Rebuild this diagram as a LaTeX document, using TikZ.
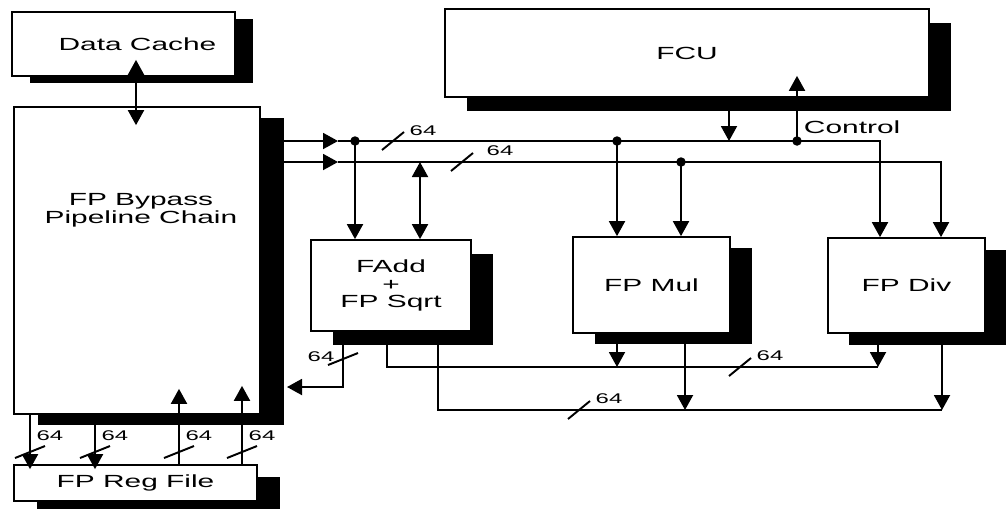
\documentclass[tikz,border=0pt]{standalone}
\usepackage{fontspec}
\setmainfont{Liberation Sans}[FakeStretch=1.7]
\usetikzlibrary{arrows.meta,calc,shadows}
\tikzset{
  blockbox/.style={draw, fill=white, line width=1pt, inner sep=0pt, align=center,
    font=\fontsize{10}{10.2}\selectfont},
  blkshadow/.style 2 args={drop shadow={shadow xshift=#1, shadow yshift=#2,
    fill=black, opacity=1}},
  blocklbl/.style={align=center, inner sep=0pt, font=\fontsize{10}{10.2}\selectfont},
  numlbl/.style={inner sep=0pt, font=\fontsize{8}{8}\selectfont},
  flow/.style={-{Triangle[length=3mm,width=3.2mm]}},
  dflow/.style={{Triangle[length=3mm,width=3.2mm]}-{Triangle[length=3mm,width=3.2mm]}},
  bwh/.pic={\draw (-11,9) -- (11,-9);},
  bwv/.pic={\draw (-15,6) -- (15,-6);}
}
\begin{document}
\begin{tikzpicture}[x=0.02cm, y=-0.02cm, line width=1.1pt]
\useasboundingbox (0,0) rectangle (1006,508);

% blocks
\node[blockbox, blkshadow={3.6mm}{-1.4mm}, minimum width=4.46cm, minimum height=1.28cm] (dcache) at (123.5,44) {\hspace*{5.6mm}Data Cache};
\node[blockbox, blkshadow={4.8mm}{-2.2mm}, minimum width=4.92cm, minimum height=6.14cm] (bypass) at (137,260.5) {};
\node[blocklbl] (bypasslbl) at (141,210) {FP Bypass\\Pipeline Chain};
\node[blockbox, blkshadow={4.6mm}{-2.4mm}, minimum width=4.86cm, minimum height=0.72cm] (regfile) at (135.5,483) {FP Reg File};
\node[blockbox, blkshadow={4.4mm}{-2.8mm}, minimum width=9.68cm, minimum height=1.76cm] (fcu) at (687,53) {FCU};
\node[blockbox, blkshadow={4.4mm}{-2.8mm}, minimum width=3.2cm, minimum height=1.82cm] (fadd) at (391,285.5) {FAdd\\+\\FP Sqrt};
\node[blockbox, blkshadow={4.4mm}{-2.2mm}, minimum width=3.14cm, minimum height=1.92cm] (fpmul) at (651.5,285) {FP Mul};
\node[blockbox, blkshadow={4.2mm}{-2.4mm}, minimum width=3.14cm, minimum height=1.9cm] (fpdiv) at (906.5,285.5) {FP Div};

% bus points
\coordinate (ain) at (338,141);
\coordinate (bin) at (338,162);
\coordinate (a1) at (355,141);
\coordinate (a2) at (617,141);
\coordinate (a3) at (729,141);
\coordinate (a4) at (797,141);
\coordinate (a5) at (880,141);
\coordinate (b1) at (420,162);
\coordinate (b2) at (681,162);
\coordinate (b3) at (941,162);

% buses from the bypass chain
\draw[flow] (bypass.east |- ain) -- (ain);
\draw[flow] (ain) -- (a5) -- (fpdiv.north -| a5);
\draw[flow] (bypass.east |- bin) -- (bin);
\draw[flow] (bin) -- (b3) -- (fpdiv.north -| b3);
\draw[flow] (a1) -- (fadd.north -| a1);
\draw[dflow] (b1) -- (fadd.north -| b1);
\draw[flow] (a2) -- (fpmul.north -| a2);
\draw[flow] (b2) -- (fpmul.north -| b2);
\foreach \p in {a1,a2,a4,b2} \fill (\p) circle[radius=2.7pt];

% FCU
\draw[flow] (fcu.south -| a3) -- (a3);
\draw[flow] (a4) -- ($(fcu.south -| a4)+(0,-22)$) node[blocklbl, pos=0.21, right=1.2mm] (ctrl) {Control};

% results
\coordinate (oadd) at (343,387);
\coordinate (bpin) at (287,387);
\draw[flow] (fadd.south -| oadd) -- (oadd) -- (bpin);
\coordinate (c1) at (387,367);
\coordinate (c2) at (878,367);
\coordinate (m1) at (617,367);
\draw (fadd.south -| c1) -- (c1) -- (c2);
\draw[flow] (fpmul.south -| m1) -- (m1);
\draw[flow] (fpdiv.south -| c2) -- (c2);
\coordinate (d1) at (438,410);
\coordinate (d2) at (942,410);
\coordinate (m2) at (685,410);
\draw (fadd.south -| d1) -- (d1) -- (d2);
\draw[flow] (fpmul.south -| m2) -- (m2);
\draw[flow] (fpdiv.south -| d2) -- (d2);

% data cache
\coordinate (dc) at (136,90);
\draw[dflow] ($(dcache.south -| dc)+(0,-17)$) -- ($(bypass.north -| dc)+(0,19)$);

% register file
\coordinate (r1) at (30,452);
\coordinate (r2) at (95,452);
\coordinate (r3) at (179,452);
\coordinate (r4) at (242,452);
\draw[flow] (bypass.south -| r1) -- ($(regfile.north -| r1)+(0,5)$);
\draw[flow] (bypass.south -| r2) -- ($(regfile.north -| r2)+(0,5)$);
\draw[flow] (regfile.north -| r3) -- ($(bypass.south -| r3)+(0,-26)$);
\draw[flow] (regfile.north -| r4) -- ($(bypass.south -| r4)+(0,-29)$);

% bus widths
\foreach \r in {r1,r2,r3,r4} {
  \pic at (\r) {bwv};
  \node[numlbl] (w\r) at ($(\r)+(20,-16)$) {64};
}
\pic at (393,141) {bwh};
\node[numlbl] (wA) at (423,131) {64};
\pic at (462,162) {bwh};
\node[numlbl] (wB) at (500,151) {64};
\pic at (343,359) {bwv};
\node[numlbl] (wadd) at (321,357) {64};
\pic at (740,367) {bwh};
\node[numlbl] (wmul) at (770,356) {64};
\pic at (579,410) {bwh};
\node[numlbl] (wdiv) at (609,399) {64};
\end{tikzpicture}
\end{document}
